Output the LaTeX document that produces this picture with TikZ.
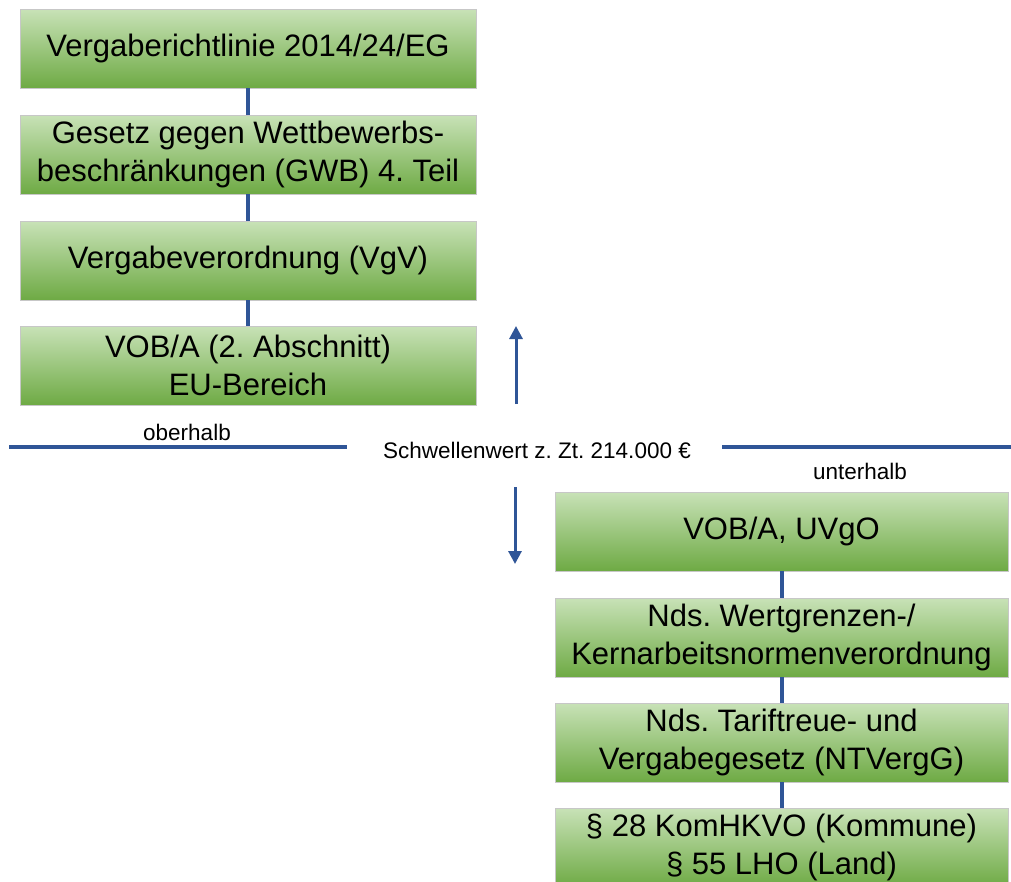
\documentclass[tikz,border=0pt]{standalone}
\usepackage{fontspec}
\setmainfont{Liberation Sans}
\usetikzlibrary{arrows.meta,positioning}
\definecolor{linieblau}{RGB}{47,85,151}
\definecolor{gruenhell}{RGB}{200,226,183}
\definecolor{gruenmitte}{RGB}{182,216,158}
\definecolor{gruendunkel}{RGB}{110,170,68}
\frenchspacing

\begin{document}
\begin{tikzpicture}
[x=1pt,y=-1pt,
edge/.style={draw=linieblau, line width=4pt},
pfeil/.style={draw=linieblau, line width=3pt, -{Triangle[length=13pt,width=13pt]}},
block/.style={draw=black!22, line width=1pt, top color=gruenhell, middle color=gruenmitte,
  bottom color=gruendunkel, minimum height=79pt, align=center, inner sep=2pt, outer sep=0pt,
  font=\fontsize{31}{38}\selectfont},
klein/.style={font=\fontsize{22.5}{27}\selectfont, inner sep=0pt}]
\useasboundingbox (0,0) rectangle (1011,881);
\clip (0,0) rectangle (1011,881);
%%
\node (richtlinie) [block,minimum width=456pt] at (248,48.5) {Vergaberichtlinie 2014/24/EG};
\node (gwb) [block,minimum width=456pt,below=27pt of richtlinie] {Gesetz gegen Wettbewerbs-\\beschränkungen (GWB) 4. Teil};
\node (vgv) [block,minimum width=456pt,below=27pt of gwb] {Vergabeverordnung (VgV)};
\node (vobeu) [block,minimum width=456pt,below=26pt of vgv] {VOB/A (2. Abschnitt)\\EU-Bereich};
%%
\draw[edge] (richtlinie) -- (gwb);
\draw[edge] (gwb) -- (vgv);
\draw[edge] (vgv) -- (vobeu);
%%
\node (schwelle) [klein] at (537,450) {Schwellenwert z. Zt. 214.000 €};
\node (ober) [klein] at (187,432) {oberhalb};
\node (unter) [klein] at (860,471) {unterhalb};
\coordinate (linksA) at (9,447);
\coordinate (linksB) at (347,447);
\coordinate (rechtsA) at (722,447);
\coordinate (rechtsB) at (1011,447);
\draw[edge] (linksA) -- (linksB);
\draw[edge] (rechtsA) -- (rechtsB);
%%
\coordinate (hochA) at (516,404);
\coordinate (hochB) at (516,326);
\coordinate (runterA) at (515,487);
\coordinate (runterB) at (515,564);
\draw[pfeil] (hochA) -- (hochB);
\draw[pfeil] (runterA) -- (runterB);
%%
\node (uvgo) [block,minimum width=453pt] at (781.5,531.5) {VOB/A, UVgO};
\node (wertgrenzen) [block,minimum width=453pt,below=27pt of uvgo] {Nds. Wertgrenzen-/\\Kernarbeitsnormenverordnung};
\node (ntvergg) [block,minimum width=453pt,below=26pt of wertgrenzen] {Nds. Tariftreue- und\\Vergabegesetz (NTVergG)};
\node (lho) [block,minimum width=453pt,below=26pt of ntvergg] {§ 28 KomHKVO (Kommune)\\§ 55 LHO (Land)};
%%
\draw[edge] (uvgo) -- (wertgrenzen);
\draw[edge] (wertgrenzen) -- (ntvergg);
\draw[edge] (ntvergg) -- (lho);
%%
\end{tikzpicture}
\end{document}
